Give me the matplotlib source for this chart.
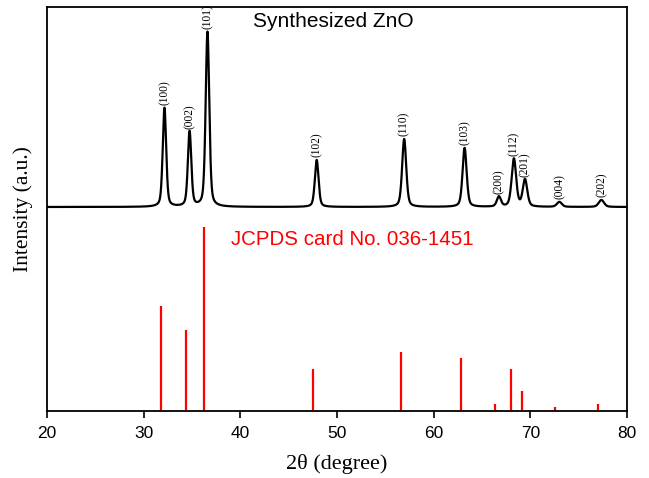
import numpy as np
import matplotlib
matplotlib.use("Agg")
import matplotlib.pyplot as plt

# Experimental XRD peaks (synthesized ZnO)
hkl = ["(100)", "(002)", "(101)", "(102)", "(110)", "(103)", "(200)", "(112)", "(201)", "(004)", "(202)"]
exp_pos = [32.15, 34.75, 36.6, 47.9, 56.95, 63.2, 66.75, 68.3, 69.45, 73.0, 77.35]
exp_height = [99, 75, 175, 47, 68, 59, 10, 48, 27, 5, 7]
exp_fwhm = [0.42, 0.42, 0.44, 0.45, 0.5, 0.5, 0.5, 0.55, 0.55, 0.6, 0.65]
baseline = 204

# JCPDS card 036-1451 reference lines
ref_pos = [31.77, 34.42, 36.25, 47.54, 56.6, 62.86, 66.38, 67.96, 69.1, 72.56, 76.95]
ref_int = [57, 44, 100, 23, 32, 29, 4, 23, 11, 2, 4]
ref_scale = 1.84

fig = plt.figure(figsize=(6.49, 4.78), dpi=100)
ax = fig.add_axes([47/649, 1-411/478, 580/649, 404/478])

x = np.linspace(20, 80, 6001)
y = np.full_like(x, float(baseline))
for p, h, w in zip(exp_pos, exp_height, exp_fwhm):
    g = 0.5 * w
    lor = g**2 / ((x - p)**2 + g**2)
    gau = np.exp(-4*np.log(2)*(x - p)**2 / w**2)
    y += h * (0.6*gau + 0.4*lor)
ax.plot(x, y, color="black", lw=1.6)

for p, h, lab in zip(exp_pos, exp_height, hkl):
    ax.text(p, baseline + h + 3, lab, rotation=90, ha="center", va="bottom",
            fontsize=8.3, family="Liberation Serif")

ax.vlines(ref_pos, 0, np.array(ref_int) * ref_scale, color="red", lw=1.6)

ax.text(0.493, 0.965, "Synthesized ZnO", transform=ax.transAxes, ha="center", va="center",
        fontsize=15, family="Liberation Sans")
ax.text(0.318, 0.425, "JCPDS card No. 036-1451", transform=ax.transAxes, ha="left", va="center",
        fontsize=14.8, family="Liberation Sans", color="red")

ax.set_xlim(20, 80)
ax.set_ylim(0, 404)
ax.set_yticks([])
ax.set_xticks([20, 30, 40, 50, 60, 70, 80])
ax.tick_params(axis="x", direction="out", length=5, width=1.2, labelsize=12.5, pad=6)
for lbl in ax.get_xticklabels():
    lbl.set_family("Liberation Sans")
for s in ax.spines.values():
    s.set_linewidth(1.3)
ax.set_xlabel("2θ (degree)", fontsize=16, family="Liberation Serif", labelpad=9)
ax.set_ylabel("Intensity (a.u.)", fontsize=15.5, family="Liberation Serif", labelpad=10)

fig.savefig("out.png", dpi=100)
